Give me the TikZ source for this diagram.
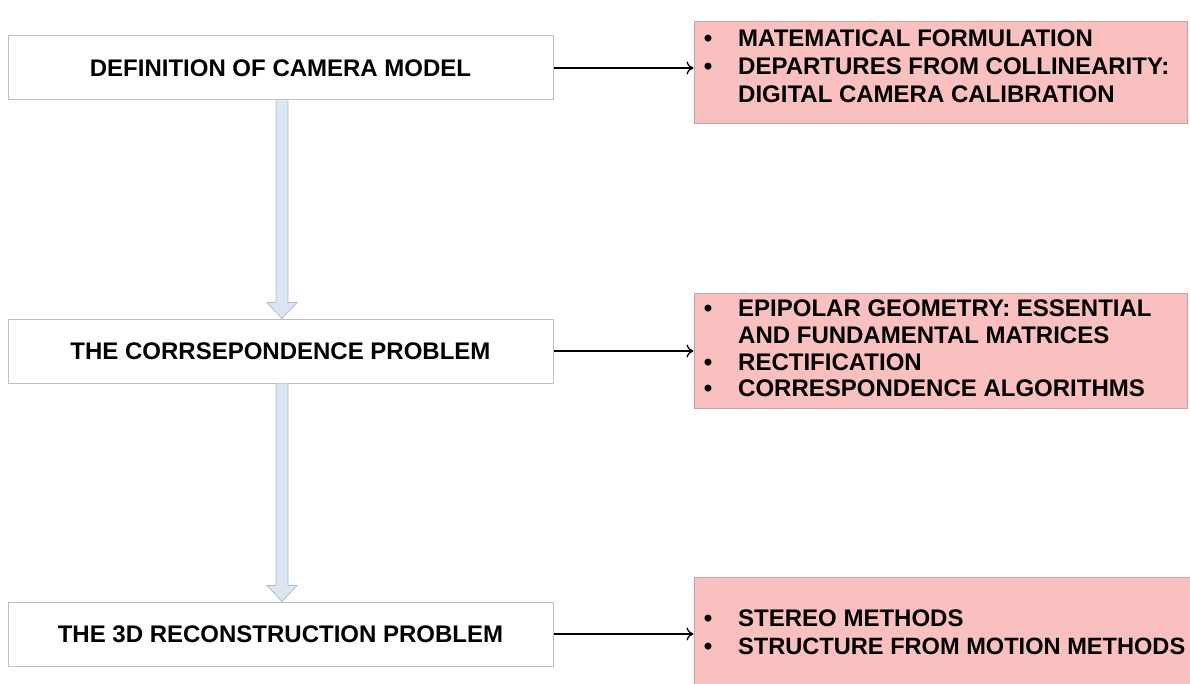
\documentclass[tikz,border=0pt]{standalone}
\usepackage{fontspec}
\setmainfont{Liberation Sans}
\usetikzlibrary{calc,arrows.meta}
\definecolor{boxline}{HTML}{BFBFBF}
\definecolor{pinkfill}{HTML}{FABFBF}
\definecolor{pinkline}{HTML}{C9A3A3}
\definecolor{flowfill}{HTML}{DCE6F2}
\definecolor{flowline}{HTML}{A9BDD3}
\newcommand{\bigbold}{\bfseries\fontsize{24}{27}\selectfont}
\begin{document}
\begin{tikzpicture}[x=1pt,y=-1pt,
  stage/.style={draw=boxline, line width=1pt, fill=white, minimum width=545pt,
    minimum height=64pt, inner sep=0pt, font=\bigbold},
  topic/.style={draw=pinkline, line width=1pt, fill=pinkfill, inner sep=0pt},
  item/.style={anchor=base west, inner sep=0pt, font=\bigbold},
  dot/.style={anchor=base, inner sep=0pt, font=\bigbold},
  link/.style={-{To[length=7pt,width=13pt]}, line width=1.3pt},
  flow/.style={draw=flowline, fill=flowfill, line width=0.8pt}]
\useasboundingbox (0,0) rectangle (1190,684);
\clip (0,0) rectangle (1190,684);

% stages of the pipeline
\node[stage] (b1) at (280.5,68)  {DEFINITION OF CAMERA MODEL};
\node[stage] (b2) at (280.5,351) {THE CORRSEPONDENCE PROBLEM};
\node[stage] (b3) at (280.5,634) {THE 3D RECONSTRUCTION PROBLEM};

% topic panels
\node[topic, minimum width=493pt, minimum height=102pt] (p1) at (940.5,73) {};
\node[topic, minimum width=493pt, minimum height=114pt] (p2) at (940.5,351) {};
\node[topic, minimum width=504pt, minimum height=124pt] (p3) at (946,639) {};

% panel 1 items
\node[dot]  (d11) at (708,46.6)  {\textbullet};
\node[item] (t11) at (738,46.6)  {MATEMATICAL FORMULATION};
\node[dot]  (d12) at (708,74.6)  {\textbullet};
\node[item] (t12) at (738,74.6)  {DEPARTURES FROM COLLINEARITY:};
\node[item] (t13) at (738,102.6) {DIGITAL CAMERA CALIBRATION};

% panel 2 items
\node[dot]  (d21) at (708,316.6) {\textbullet};
\node[item] (t21) at (738,316.6) {EPIPOLAR GEOMETRY: ESSENTIAL};
\node[item] (t22) at (738,343.6) {AND FUNDAMENTAL MATRICES};
\node[dot]  (d23) at (708,370.6) {\textbullet};
\node[item] (t23) at (738,370.6) {RECTIFICATION};
\node[dot]  (d24) at (708,396.6) {\textbullet};
\node[item] (t24) at (738,396.6) {CORRESPONDENCE ALGORITHMS};

% panel 3 items
\node[dot]  (d31) at (708,626.6) {\textbullet};
\node[item] (t31) at (738,626.6) {STEREO METHODS};
\node[dot]  (d32) at (708,654.6) {\textbullet};
\node[item, font=\bfseries\fontsize{23.6}{27}\selectfont] (t32) at (738,654.6)
  {STRUCTURE FROM MOTION METHODS};

% links from each stage to its topics
\draw[link] (b1.east) -- (b1.east -| p1.west);
\draw[link] (b2.east) -- (b2.east -| p2.west);
\draw[link] (b3.east) -- (b3.east -| p3.west);

% block arrows between stages
\draw[flow] ($(b1.south)+(-4.5,0)$) -- ($(b2.north)+(-4.5,-16)$)
  -- ($(b2.north)+(-13.5,-16)$) -- ($(b2.north)+(1.5,0)$)
  -- ($(b2.north)+(16.5,-16)$) -- ($(b2.north)+(7.5,-16)$)
  -- ($(b1.south)+(7.5,0)$);
\draw[flow] ($(b2.south)+(-4.5,0)$) -- ($(b3.north)+(-4.5,-16)$)
  -- ($(b3.north)+(-13.5,-16)$) -- ($(b3.north)+(1.5,0)$)
  -- ($(b3.north)+(16.5,-16)$) -- ($(b3.north)+(7.5,-16)$)
  -- ($(b2.south)+(7.5,0)$);
\end{tikzpicture}
\end{document}
